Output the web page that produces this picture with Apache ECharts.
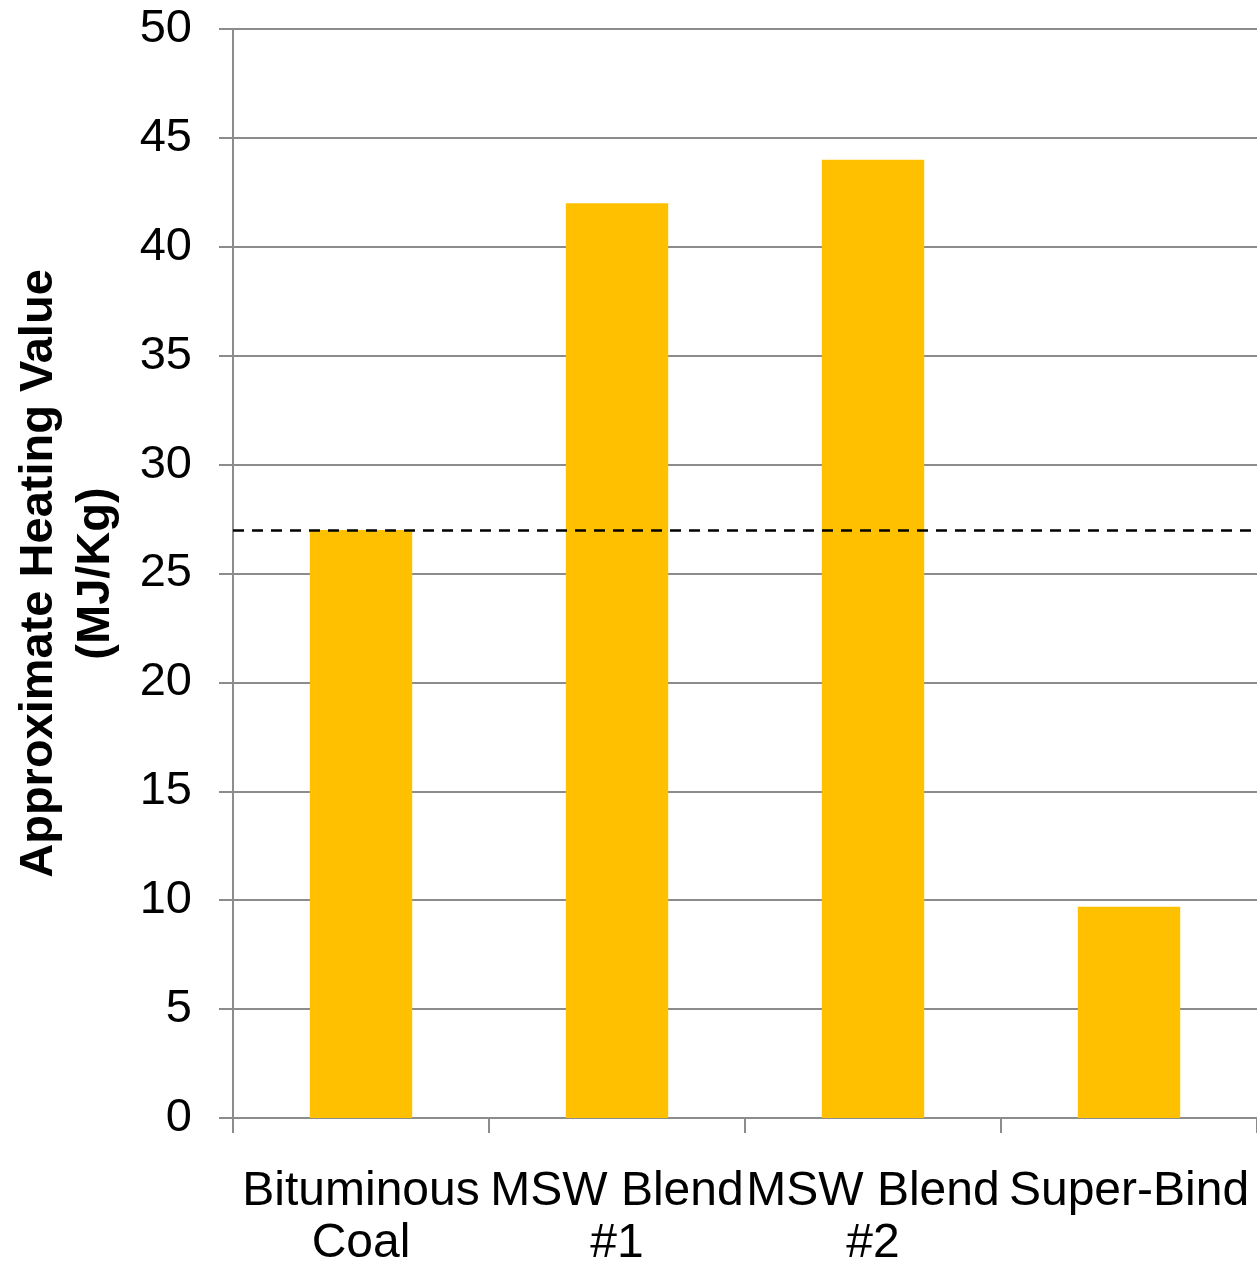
<!DOCTYPE html>
<html>
<head>
<meta charset="utf-8">
<script src="https://cdn.jsdelivr.net/npm/echarts@6/dist/echarts.min.js"></script>
<style>
  html, body { margin: 0; padding: 0; background: #fff; }
  #chart { width: 1257px; height: 1266px; }
</style>
</head>
<body>
<div id="chart"></div>
<script>
// Heating value per fuel, MJ/Kg
const categories = ['Bituminous\nCoal', 'MSW Blend\n#1', 'MSW Blend\n#2', 'Super-Bind'];
const heatingValues = [27, 42, 44, 9.7];
// Reference level drawn as a dashed line (coal)
const referenceLevel = [27];
const yTicks = { min: 0, max: 50, interval: 5 };

const FONT = '"Liberation Sans", Arial, sans-serif';
const GRID_COLOR = '#8c8c8c';

const chart = echarts.init(document.getElementById('chart'), null, { renderer: 'canvas' });

chart.setOption({
  backgroundColor: '#ffffff',
  animation: false,
  grid: {
    left: 233, right: 0, top: 29, bottom: 148,
    containLabel: false,
    outerBoundsMode: 'none'
  },
  xAxis: {
    type: 'category',
    data: categories,
    boundaryGap: true,
    axisLine: { show: true, lineStyle: { color: GRID_COLOR, width: 2 } },
    axisTick: { show: true, length: 15, alignWithLabel: false, lineStyle: { color: GRID_COLOR, width: 2 } },
    axisLabel: {
      interval: 0,
      color: '#000',
      fontFamily: FONT,
      fontSize: 48,
      lineHeight: 52,
      margin: 48,
      hideOverlap: false
    }
  },
  yAxis: {
    type: 'value',
    min: yTicks.min,
    max: yTicks.max,
    interval: yTicks.interval,
    name: 'Approximate Heating Value\n(MJ/Kg)',
    nameLocation: 'middle',
    nameGap: 108,
    nameRotate: 90,
    nameTextStyle: {
      color: '#000',
      fontFamily: FONT,
      fontWeight: 'bold',
      fontSize: 47,
      lineHeight: 57
    },
    axisLine: { show: true, lineStyle: { color: GRID_COLOR, width: 2 } },
    axisTick: { show: true, inside: false, length: 14, lineStyle: { color: GRID_COLOR, width: 2 } },
    axisLabel: {
      color: '#000',
      fontFamily: FONT,
      fontSize: 47,
      margin: 41
    },
    splitLine: { show: true, lineStyle: { color: GRID_COLOR, width: 2 } }
  },
  series: [{
    type: 'bar',
    data: heatingValues,
    barWidth: '40%',
    itemStyle: { color: '#FFC000' },
    markLine: {
      silent: true,
      symbol: 'none',
      label: { show: false },
      lineStyle: { color: '#000', type: [11, 8], width: 2.5 },
      data: referenceLevel.map(v => ({ yAxis: v }))
    }
  }]
});
</script>
</body>
</html>
